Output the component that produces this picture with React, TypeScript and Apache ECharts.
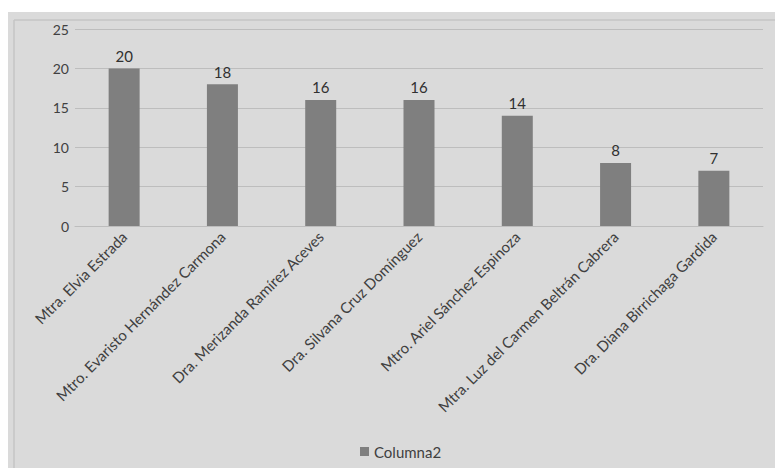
import React, { useEffect, useRef } from "react";
import * as echarts from "echarts";

const categories = [
  "Mtra. Elvia Estrada",
  "Mtro. Evaristo Hernández Carmona",
  "Dra. Merizanda Ramírez Aceves",
  "Dra. Silvana Cruz Domínguez",
  "Mtro. Ariel Sánchez Espinoza",
  "Mtra. Luz del Carmen Beltrán Cabrera",
  "Dra. Diana Birrichaga Gardida",
];
const values = [20, 18, 16, 16, 14, 8, 7];
const seriesName = "Columna2";

export default function App() {
  const ref = useRef<HTMLDivElement>(null);
  useEffect(() => {
    if (!ref.current) return;
    const chart = echarts.init(ref.current, null, { renderer: "svg" });
    chart.setOption({
      animation: false,
      backgroundColor: "#ffffff",
      graphic: [
        { type: "rect", shape: { x: 8, y: 12, width: 775, height: 470 }, style: { fill: "#dadada" }, silent: true, z: -10 },
        { type: "line", shape: { x1: 14, y1: 20, x2: 775, y2: 20 }, style: { stroke: "#c4c4c4", lineWidth: 1.5 }, silent: true, z: -9 },
        { type: "line", shape: { x1: 14, y1: 20, x2: 14, y2: 468 }, style: { stroke: "#c4c4c4", lineWidth: 1.5 }, silent: true, z: -9 },
      ],
      grid: { left: 75, right: 12, top: 29, bottom: 242, containLabel: false },
      legend: {
        bottom: 4,
        left: 355,
        icon: "rect",
        itemWidth: 9,
        itemHeight: 9,
        itemGap: 5,
        textStyle: { fontFamily: "Lato", fontSize: 15, color: "#404040" },
        data: [seriesName],
      },
      xAxis: {
        type: "category",
        data: categories,
        axisLine: { show: true, lineStyle: { color: "#bdbdbd", width: 1 } },
        axisTick: { show: false },
        axisLabel: { rotate: 45, margin: 8, fontFamily: "Lato", fontSize: 15, color: "#404040", interval: 0 },
      },
      yAxis: {
        type: "value",
        min: 0,
        max: 25,
        interval: 5,
        axisLine: { show: false },
        axisTick: { show: false },
        splitLine: { lineStyle: { color: "#bdbdbd", width: 1 } },
        axisLabel: { margin: 6, fontFamily: "Lato", fontSize: 14, color: "#404040" },
      },
      series: [
        {
          name: seriesName,
          type: "bar",
          data: values,
          barWidth: 31,
          itemStyle: { color: "#7f7f7f" },
          label: { show: true, position: "top", distance: 5, fontFamily: "Lato", fontSize: 15, color: "#303030" },
        },
      ],
    });
    return () => chart.dispose();
  }, []);
  return (
    <div
      ref={ref}
      style={{ position: "fixed", left: 0, top: 0, width: 775, height: 468 }}
    />
  );
}
